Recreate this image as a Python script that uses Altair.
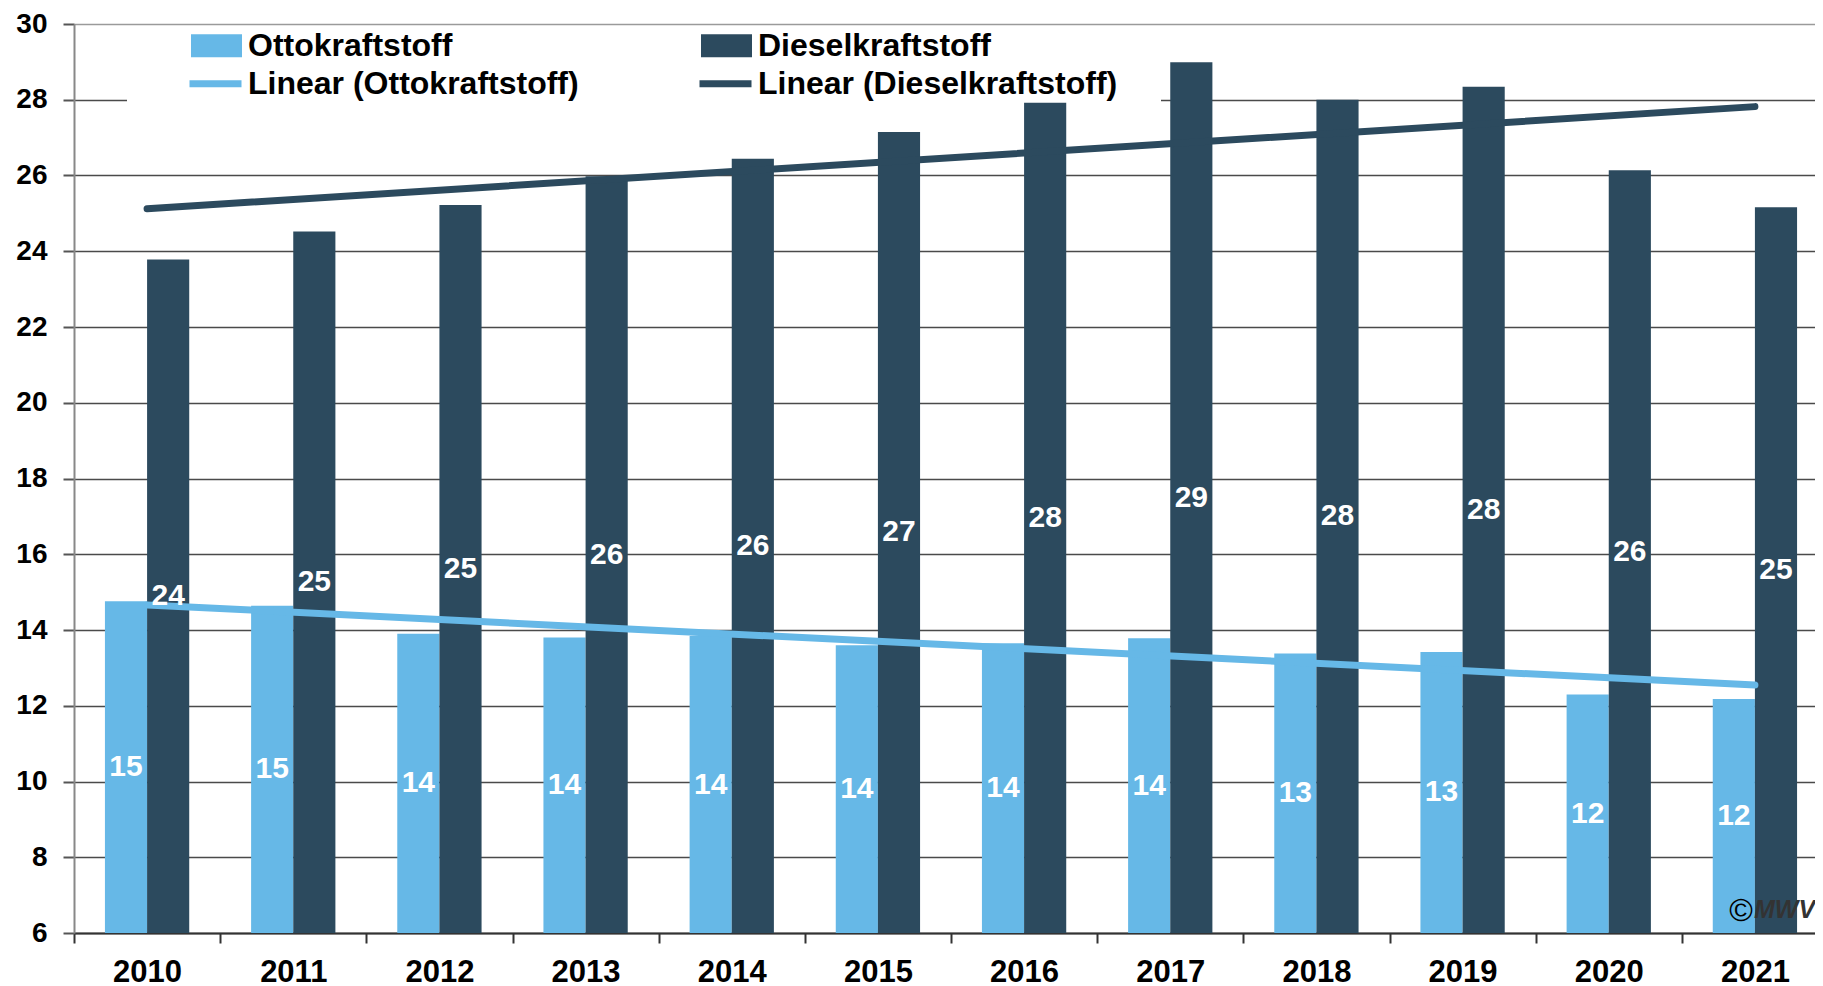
import altair as alt
import pandas as pd

years = [2010, 2011, 2012, 2013, 2014, 2015, 2016, 2017, 2018, 2019, 2020, 2021]
otto = [14.76, 14.64, 13.90, 13.80, 13.84, 13.60, 13.65, 13.78, 13.38, 13.42, 12.30, 12.18]
diesel = [23.78, 24.52, 25.22, 25.98, 26.44, 27.15, 27.92, 28.99, 28.00, 28.34, 26.14, 25.16]
series_names = ["Ottokraftstoff", "Dieselkraftstoff"]
trend_names = ["Linear (Ottokraftstoff)", "Linear (Dieselkraftstoff)"]
colors = ["#66B8E7", "#2C4A5E"]
y_ticks = list(range(6, 31, 2))
y_min, y_max = 6, 30

rows = []
for s, t, vals in zip(series_names, trend_names, [otto, diesel]):
    for yv, v in zip(years, vals):
        rows.append({"yr": str(yv), "year": yv, "series": s, "trend": t, "value": v})
df = pd.DataFrame(rows)

FONT = "Liberation Sans"

x_enc = alt.X(
    "yr:N",
    scale=alt.Scale(paddingInner=0, paddingOuter=0),
    axis=alt.Axis(
        title=None, labelAngle=0, labelFont=FONT, labelFontWeight="bold",
        labelFontSize=31, labelColor="black", tickBand="extent", ticks=True,
        tickSize=10, tickColor="#333333", tickWidth=2, domainColor="#333333",
        domainWidth=2, grid=False, labelPadding=14,
    ),
)
y_scale = alt.Scale(domain=[y_min, y_max], nice=False, zero=False)
y_enc = alt.Y(
    "value:Q",
    scale=y_scale,
    axis=alt.Axis(
        title=None, values=y_ticks, grid=True,
        gridColor={"condition": {"test": "datum.value === 30", "value": "#9a9a9a"},
                   "value": "#4a4a4a"},
        gridWidth=1.5,
        tickSize=11, tickColor="#555555", tickWidth=2, domainColor="#888888",
        domainWidth=2, labelFont=FONT, labelFontWeight="bold", labelFontSize=28,
        labelColor="black", labelPadding=16,
    ),
)
xoff = alt.XOffset("series:N", sort=series_names,
                   scale=alt.Scale(paddingInner=0, paddingOuter=0.734))

base = alt.Chart(df)

# white legend background strip (hides the gridline behind the legend, as in the original)
legend_bg = alt.Chart(pd.DataFrame({"k": [0]})).mark_rect(color="white").encode(
    x=alt.value(53), x2=alt.value(1087), y=alt.value(68), y2=alt.value(80)
)

bars = base.mark_bar().encode(
    x=x_enc,
    xOffset=xoff,
    y=y_enc,
    y2=alt.datum(y_min),
    fill=alt.Fill(
        "series:N", sort=series_names,
        scale=alt.Scale(domain=series_names, range=colors),
        legend=alt.Legend(
            title=None, orient="none", legendX=117, legendY=-4,
            direction="horizontal", columns=2, columnPadding=248,
            symbolType="M-1,-0.45L1,-0.45L1,0.45L-1,0.45Z", symbolSize=2601,
            symbolStrokeWidth=0, symbolOpacity=1, labelFontSize=32, labelFont=FONT,
            labelFontWeight="bold", labelColor="black", labelLimit=700,
            labelOffset=6, padding=0,
        ),
    ),
)

lines = base.transform_regression(
    "year", "value", groupby=["trend"]
).transform_calculate(
    yr="toString(datum.year)"
).mark_line(strokeWidth=7, strokeCap="round").encode(
    x="yr:N",
    y="value:Q",
    stroke=alt.Stroke(
        "trend:N", sort=trend_names,
        scale=alt.Scale(domain=trend_names, range=colors),
        legend=alt.Legend(
            title=None, orient="none", legendX=112, legendY=30,
            direction="horizontal", columns=2, columnPadding=106,
            symbolType="stroke", symbolSize=2704, symbolStrokeWidth=7,
            labelFontSize=32, labelFont=FONT, labelFontWeight="bold",
            labelColor="black", labelLimit=700, labelOffset=3, padding=0,
        ),
    ),
)

labels = base.transform_calculate(
    mid=f"(datum.value + {y_min}) / 2"
).mark_text(
    color="white", font=FONT, fontWeight="bold", fontSize=30, baseline="middle"
).encode(
    x="yr:N",
    xOffset=xoff,
    y=alt.Y("mid:Q"),
    text=alt.Text("value:Q", format=".0f"),
)

copy_sym = alt.Chart(pd.DataFrame({"t": ["©"]})).mark_text(
    font=FONT, fontSize=32, color="black", align="center", baseline="middle"
).encode(x=alt.value(1667), y=alt.value(887), text="t:N")

copy_logo = alt.Chart(pd.DataFrame({"t": ["MWV"]})).mark_text(
    font=FONT, fontSize=25, fontWeight="bold", fontStyle="italic",
    color="#333333", align="left", baseline="middle"
).encode(x=alt.value(1680), y=alt.value(886), text="t:N")

chart = alt.layer(legend_bg, bars, lines, labels, copy_sym, copy_logo).properties(
    width=1754, height=909,
    autosize=alt.AutoSizeParams(type="none"),
    padding={"left": 66, "top": 16, "right": -13, "bottom": 55},
).configure_view(stroke=None).configure(font=FONT)

chart.save("out.html", embed_options={"renderer": "svg", "actions": False})
